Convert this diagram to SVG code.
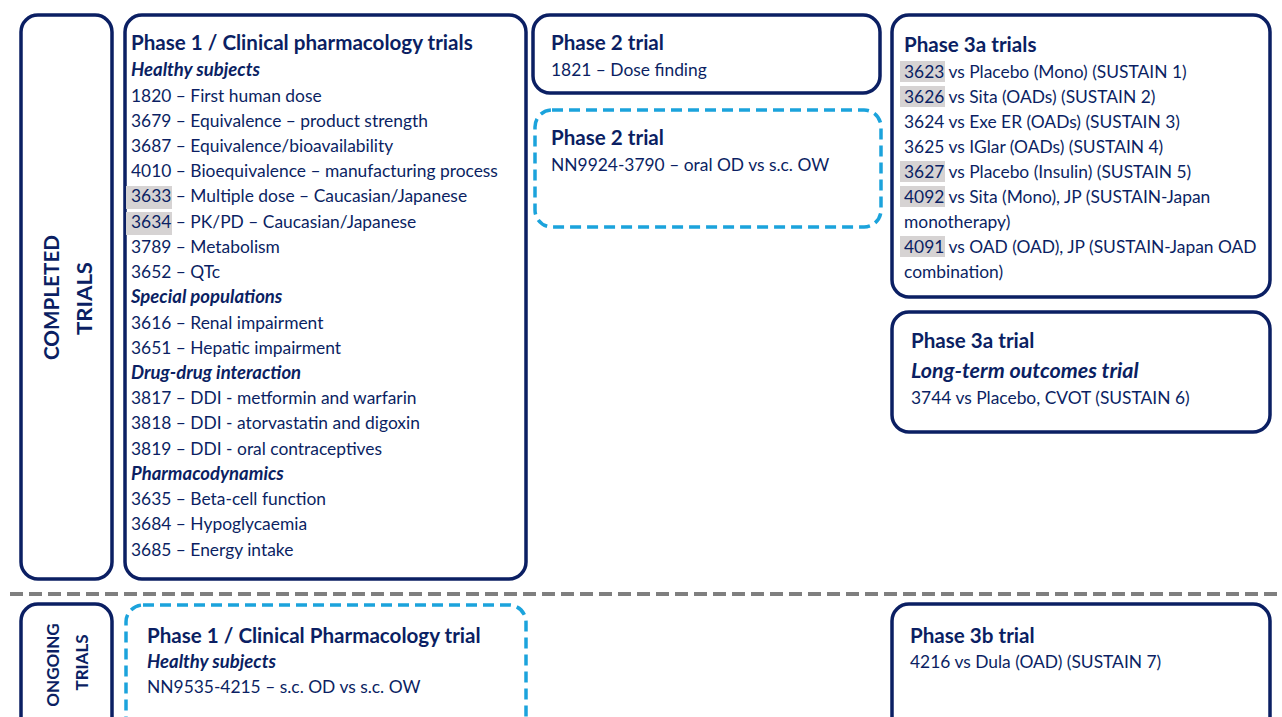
<svg xmlns="http://www.w3.org/2000/svg" width="1282" height="717" viewBox="0 0 1282 717">
<style>
.box{fill:#fff;stroke:#0b1f63;stroke-width:3.5}
.dbox{fill:#fff;stroke:#1ba3dc;stroke-width:3.5;stroke-dasharray:11 6}
text{font-family:Lato,"Liberation Sans",sans-serif;fill:#0b1f63}
.t{font-size:17.4px}
.h{font-size:20.6px;font-weight:bold}
.s{font-size:18.5px;font-weight:bold;font-style:italic}
.v{font-size:21px;font-weight:bold}
.vb{font-size:17px;font-weight:bold}
.hl{fill:#d6d3d3}
</style>
<g id="divider"><line x1="10" y1="594" x2="1282" y2="594" stroke="#7f7f7f" stroke-width="4" stroke-dasharray="13 6"/></g>
<g id="completed-label">
<rect class="box" x="21" y="15" width="91" height="564" rx="17"/>
<text class="v" transform="translate(59,297.5) rotate(-90)" text-anchor="middle" textLength="125" lengthAdjust="spacingAndGlyphs">COMPLETED</text>
<text class="v" transform="translate(92,298.5) rotate(-90)" text-anchor="middle" textLength="73" lengthAdjust="spacingAndGlyphs">TRIALS</text>
</g>
<g id="phase1-completed">
<rect class="box" x="125" y="15" width="401" height="564" rx="17"/>
<rect class="hl" x="126" y="186" width="46" height="23"/>
<rect class="hl" x="126" y="212" width="46" height="23"/>
<text class="h" x="131" y="50">Phase 1 / Clinical pharmacology trials</text>
<text class="s" x="131" y="76">Healthy subjects</text>
<text class="t" x="131" y="101.5">1820 – First human dose</text>
<text class="t" x="131" y="126.7">3679 – Equivalence – product strength</text>
<text class="t" x="131" y="151.9">3687 – Equivalence/bioavailability</text>
<text class="t" x="131" y="177.2">4010 – Bioequivalence – manufacturing process</text>
<text class="t" x="131" y="202.4">3633 – Multiple dose – Caucasian/Japanese</text>
<text class="t" x="131" y="227.6">3634 – PK/PD – Caucasian/Japanese</text>
<text class="t" x="131" y="252.8">3789 – Metabolism</text>
<text class="t" x="131" y="278">3652 – QTc</text>
<text class="s" x="131" y="303.3">Special populations</text>
<text class="t" x="131" y="328.5">3616 – Renal impairment</text>
<text class="t" x="131" y="353.7">3651 – Hepatic impairment</text>
<text class="s" x="131" y="378.9">Drug-drug interaction</text>
<text class="t" x="131" y="404.1">3817 – DDI - metformin and warfarin</text>
<text class="t" x="131" y="429.4">3818 – DDI - atorvastatin and digoxin</text>
<text class="t" x="131" y="454.6">3819 – DDI - oral contraceptives</text>
<text class="s" x="131" y="479.8">Pharmacodynamics</text>
<text class="t" x="131" y="505">3635 – Beta-cell function</text>
<text class="t" x="131" y="530.2">3684 – Hypoglycaemia</text>
<text class="t" x="131" y="555.5">3685 – Energy intake</text>
</g>
<g id="phase2-completed">
<rect class="box" x="533" y="15" width="347" height="78" rx="17"/>
<text class="h" x="551" y="50">Phase 2 trial</text>
<text class="t" x="551" y="76">1821 – Dose finding</text>
</g>
<g id="phase2-oral">
<rect class="dbox" x="535" y="110" width="346" height="117" rx="17"/>
<text class="h" x="551" y="145">Phase 2 trial</text>
<text class="t" x="551" y="171">NN9924-3790 – oral OD vs s.c. OW</text>
</g>
<g id="phase3a-trials">
<rect class="box" x="892" y="15" width="378" height="282" rx="17"/>
<rect class="hl" x="900" y="61" width="45" height="21"/>
<rect class="hl" x="900" y="86" width="45" height="21"/>
<rect class="hl" x="900" y="161" width="45" height="21"/>
<rect class="hl" x="900" y="186" width="45" height="21"/>
<rect class="hl" x="900" y="236" width="45" height="21"/>
<text class="h" x="904" y="52">Phase 3a trials</text>
<text class="t" x="904" y="78">3623 vs Placebo (Mono) (SUSTAIN 1)</text>
<text class="t" x="904" y="103">3626 vs Sita (OADs) (SUSTAIN 2)</text>
<text class="t" x="904" y="128">3624 vs Exe ER (OADs) (SUSTAIN 3)</text>
<text class="t" x="904" y="153">3625 vs IGlar (OADs) (SUSTAIN 4)</text>
<text class="t" x="904" y="178">3627 vs Placebo (Insulin) (SUSTAIN 5)</text>
<text class="t" x="904" y="203">4092 vs Sita (Mono), JP (SUSTAIN-Japan</text>
<text class="t" x="904" y="228">monotherapy)</text>
<text class="t" x="904" y="253">4091 vs OAD (OAD), JP (SUSTAIN-Japan OAD</text>
<text class="t" x="904" y="278">combination)</text>
</g>
<g id="phase3a-cvot">
<rect class="box" x="892" y="312" width="378" height="120" rx="17"/>
<text class="h" x="911" y="348">Phase 3a trial</text>
<text class="s" x="911" y="378" style="font-size:21.5px">Long-term outcomes trial</text>
<text class="t" x="911" y="404">3744 vs Placebo, CVOT (SUSTAIN 6)</text>
</g>
<g id="ongoing-label">
<rect class="box" x="21" y="604" width="91" height="140" rx="17"/>
<text class="vb" transform="translate(59,665) rotate(-90)" text-anchor="middle">ONGOING</text>
<text class="vb" transform="translate(88,662.5) rotate(-90)" text-anchor="middle">TRIALS</text>
</g>
<g id="phase1-ongoing">
<rect class="dbox" x="126" y="605" width="400" height="140" rx="17"/>
<text class="h" x="147" y="643">Phase 1 / Clinical Pharmacology trial</text>
<text class="s" x="147" y="668">Healthy subjects</text>
<text class="t" x="147" y="693">NN9535-4215 – s.c. OD vs s.c. OW</text>
</g>
<g id="phase3b">
<rect class="box" x="892" y="604" width="378" height="140" rx="17"/>
<text class="h" x="910" y="643">Phase 3b trial</text>
<text class="t" x="910" y="668">4216 vs Dula (OAD) (SUSTAIN 7)</text>
</g>
<g id="connectors"/>
</svg>
